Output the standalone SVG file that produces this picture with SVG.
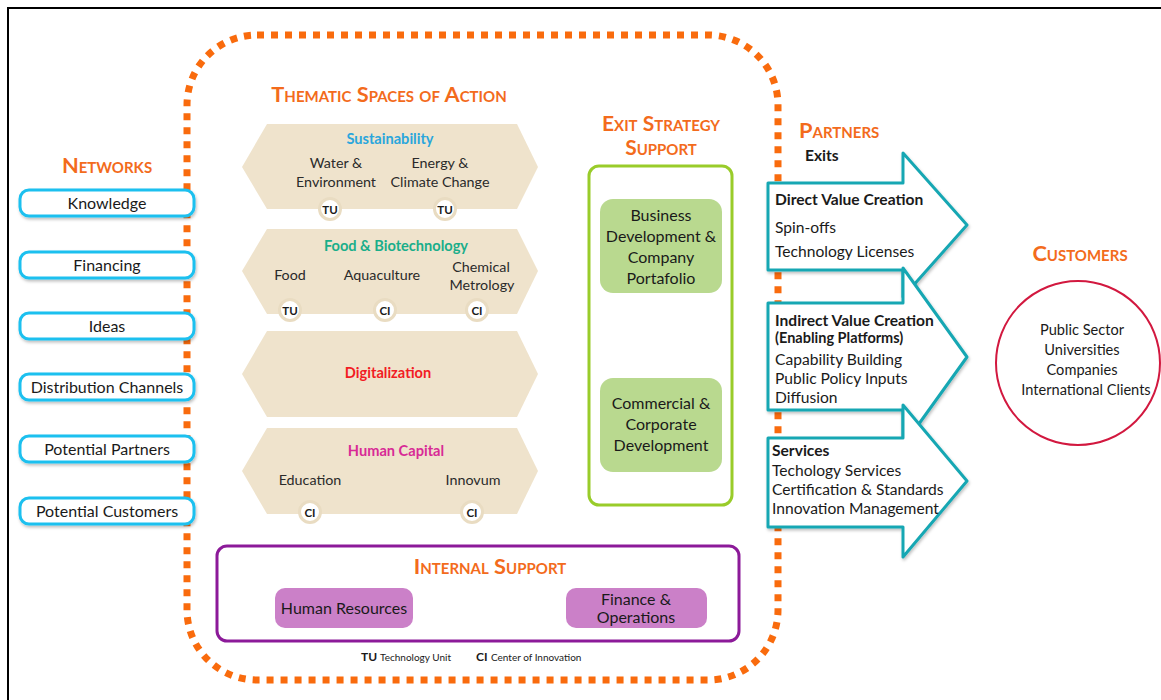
<svg xmlns="http://www.w3.org/2000/svg" width="1161" height="700" viewBox="0 0 1161 700">
<defs>
<filter id="sh" x="-10%" y="-20%" width="120%" height="150%">
<feDropShadow dx="1" dy="2" stdDeviation="1.5" flood-color="#000" flood-opacity="0.25"/>
</filter>
<style>
text{font-family:Lato,"Open Sans","Liberation Sans",sans-serif;fill:#1a1a1a}
.t{font-size:16px}
.a{font-size:15.6px}
.c{text-anchor:middle}
.ttl{font-size:21.8px;fill:#f36b1c;font-variant:small-caps;font-weight:bold}
.net{fill:#fff;stroke:#1cc0ef;stroke-width:3}
.hex{fill:#efe3cc}
.badge{fill:#fff;stroke:#e9dcc2;stroke-width:3}
.bt{font-size:11.5px;font-weight:bold;text-anchor:middle}
.ht{font-size:14.3px;text-anchor:middle;fill:#2a2a2a}
.hb{font-size:14.6px;font-weight:bold;text-anchor:middle}
.gbox{fill:#b9d98f}
.arr{fill:#fff;stroke:#18a7b3;stroke-width:3;stroke-linejoin:round}
.b{font-weight:bold}
.pbox{fill:#cb80c8}
.cu{font-size:14.6px;text-anchor:middle}
</style>
</defs>
<rect width="1161" height="700" fill="#fff"/>
<g id="frame">
<line x1="7" y1="8" x2="1161" y2="8" stroke="#000" stroke-width="2"/>
<line x1="8" y1="7" x2="8" y2="700" stroke="#000" stroke-width="2"/>
</g>
<g id="boundary">
<rect x="187" y="35" width="591" height="645" rx="70" fill="none" stroke="#f96b0d" stroke-width="7" stroke-dasharray="7 7"/>
</g>
<g id="networks">
<text class="ttl c" x="107" y="173">Networks</text>
<g id="net-knowledge"><rect class="net" x="20" y="190" width="174" height="26" rx="9" filter="url(#sh)"/><text class="t c" x="107" y="208.5">Knowledge</text></g>
<g id="net-financing"><rect class="net" x="20" y="252" width="174" height="26" rx="9" filter="url(#sh)"/><text class="t c" x="107" y="270.5">Financing</text></g>
<g id="net-ideas"><rect class="net" x="20" y="313" width="174" height="26" rx="9" filter="url(#sh)"/><text class="t c" x="107" y="331.5">Ideas</text></g>
<g id="net-distribution"><rect class="net" x="20" y="374" width="174" height="26" rx="9" filter="url(#sh)"/><text class="t c" x="107" y="392.5">Distribution Channels</text></g>
<g id="net-partners"><rect class="net" x="20" y="436" width="174" height="26" rx="9" filter="url(#sh)"/><text class="t c" x="107" y="454.5">Potential Partners</text></g>
<g id="net-customers"><rect class="net" x="20" y="498" width="174" height="26" rx="9" filter="url(#sh)"/><text class="t c" x="107" y="516.5">Potential Customers</text></g>
</g>
<g id="thematic">
<text class="ttl c" x="389" y="102">Thematic Spaces of Action</text>
<g id="sustainability">
<polygon class="hex" points="242,167 267,124 517,124 538,167 517,209 267,209"/>
<text class="hb" x="390" y="144" style="fill:#2aa6dc">Sustainability</text>
<text class="ht" x="336" y="168">Water &amp;</text>
<text class="ht" x="336" y="187">Environment</text>
<text class="ht" x="440" y="168">Energy &amp;</text>
<text class="ht" x="440" y="187">Climate Change</text>
<circle class="badge" cx="330" cy="209" r="10.5"/><text class="bt" x="330" y="213.5">TU</text>
<circle class="badge" cx="445" cy="209" r="10.5"/><text class="bt" x="445" y="213.5">TU</text>
</g>
<g id="food">
<polygon class="hex" points="242,271 267,229 517,229 538,271 517,314 267,314"/>
<text class="hb" x="396" y="251" style="fill:#1aae8a">Food &amp; Biotechnology</text>
<text class="ht" x="290" y="280">Food</text>
<text class="ht" x="382" y="280">Aquaculture</text>
<text class="ht" x="481" y="272">Chemical</text>
<text class="ht" x="482" y="290">Metrology</text>
<circle class="badge" cx="290" cy="310" r="10.5"/><text class="bt" x="290" y="314.5">TU</text>
<circle class="badge" cx="385" cy="310" r="10.5"/><text class="bt" x="385" y="314.5">CI</text>
<circle class="badge" cx="477" cy="310" r="10.5"/><text class="bt" x="477" y="314.5">CI</text>
</g>
<g id="digitalization">
<polygon class="hex" points="242,374 267,331 517,331 538,374 517,417 267,417"/>
<text class="hb" x="388" y="378" style="fill:#f21c24">Digitalization</text>
</g>
<g id="humancapital">
<polygon class="hex" points="242,471 267,428 517,428 538,471 517,514 267,514"/>
<text class="hb" x="396" y="456" style="fill:#d82a96">Human Capital</text>
<text class="ht" x="310" y="485">Education</text>
<text class="ht" x="473" y="485">Innovum</text>
<circle class="badge" cx="310" cy="512" r="10.5"/><text class="bt" x="310" y="516.5">CI</text>
<circle class="badge" cx="472" cy="512" r="10.5"/><text class="bt" x="472" y="516.5">CI</text>
</g>
</g>
<g id="exit">
<text class="ttl c" x="661" y="131" style="font-size:21px">Exit Strategy</text>
<text class="ttl c" x="661" y="155" style="font-size:21px">Support</text>
<rect x="589" y="166" width="143" height="339" rx="10" fill="#fff" stroke="#99cc2a" stroke-width="3"/>
<g id="bizdev">
<rect class="gbox" x="600" y="199" width="122" height="94" rx="13"/>
<text class="t c" x="661" y="220.5">Business</text>
<text class="t c" x="661" y="241.5">Development &amp;</text>
<text class="t c" x="661" y="262.5">Company</text>
<text class="t c" x="661" y="283.5">Portafolio</text>
</g>
<g id="commercial">
<rect class="gbox" x="600" y="378" width="122" height="94" rx="13"/>
<text class="t c" x="661" y="408.5">Commercial &amp;</text>
<text class="t c" x="661" y="429.5">Corporate</text>
<text class="t c" x="661" y="450.5">Development</text>
</g>
</g>
<g id="partners">
<text class="ttl" x="799" y="138">Partners</text>
<text class="a b" x="805" y="161">Exits</text>
</g>
<g id="connectors">
<g id="arrow-direct">
<path class="arr" filter="url(#sh)" d="M768,183 L903,183 L903,153 L967,225 L903,297 L903,270 L768,270 Z"/>
<text class="a b" x="775" y="204.5">Direct Value Creation</text>
<text class="a" x="775" y="232.5">Spin-offs</text>
<text class="a" x="775" y="256.5">Technology Licenses</text>
</g>
<g id="arrow-indirect">
<path class="arr" filter="url(#sh)" d="M768,303 L903,303 L903,268 L967,357 L903,446 L903,410 L768,410 Z"/>
<text class="a b" x="775" y="325.5">Indirect Value Creation</text>
<text class="b" x="775" y="343" style="font-size:14.5px">(Enabling Platforms)</text>
<text class="a" x="775" y="364.5">Capability Building</text>
<text class="a" x="775" y="383.5">Public Policy Inputs</text>
<text class="a" x="775" y="402.5">Diffusion</text>
</g>
<g id="arrow-services">
<path class="arr" filter="url(#sh)" d="M768,438 L903,438 L903,405 L967,481 L903,557 L903,527 L768,527 Z"/>
<text class="a b" x="772" y="455.5">Services</text>
<text class="a" x="772" y="475.5">Techology Services</text>
<text class="a" x="772" y="494.5">Certification &amp; Standards</text>
<text class="a" x="772" y="513.5">Innovation Management</text>
</g>
</g>
<g id="customers">
<text class="ttl c" x="1080" y="261">Customers</text>
<circle cx="1078" cy="363" r="82" fill="#fff" stroke="#d2183f" stroke-width="2"/>
<text class="cu" x="1082" y="335">Public Sector</text>
<text class="cu" x="1082" y="355">Universities</text>
<text class="cu" x="1082" y="375">Companies</text>
<text class="cu" x="1086" y="395">International Clients</text>
</g>
<g id="internal">
<rect x="217" y="546" width="522" height="95" rx="10" fill="#fff" stroke="#8c1a99" stroke-width="3"/>
<text class="ttl c" x="490" y="574">Internal Support</text>
<g id="hr"><rect class="pbox" x="275" y="588" width="138" height="40" rx="10"/><text class="t c" x="344" y="613.5">Human Resources</text></g>
<g id="fin"><rect class="pbox" x="566" y="588" width="141" height="40" rx="10"/><text class="t c" x="636" y="604.5">Finance &amp;</text><text class="t c" x="636" y="622.5">Operations</text></g>
</g>
<g id="legend">
<text x="361" y="661" style="font-size:12px;font-weight:bold">TU</text>
<text x="380" y="661" style="font-size:10px">Technology Unit</text>
<text x="476" y="661" style="font-size:12px;font-weight:bold">CI</text>
<text x="491" y="661" style="font-size:10px">Center of Innovation</text>
</g>
</svg>
